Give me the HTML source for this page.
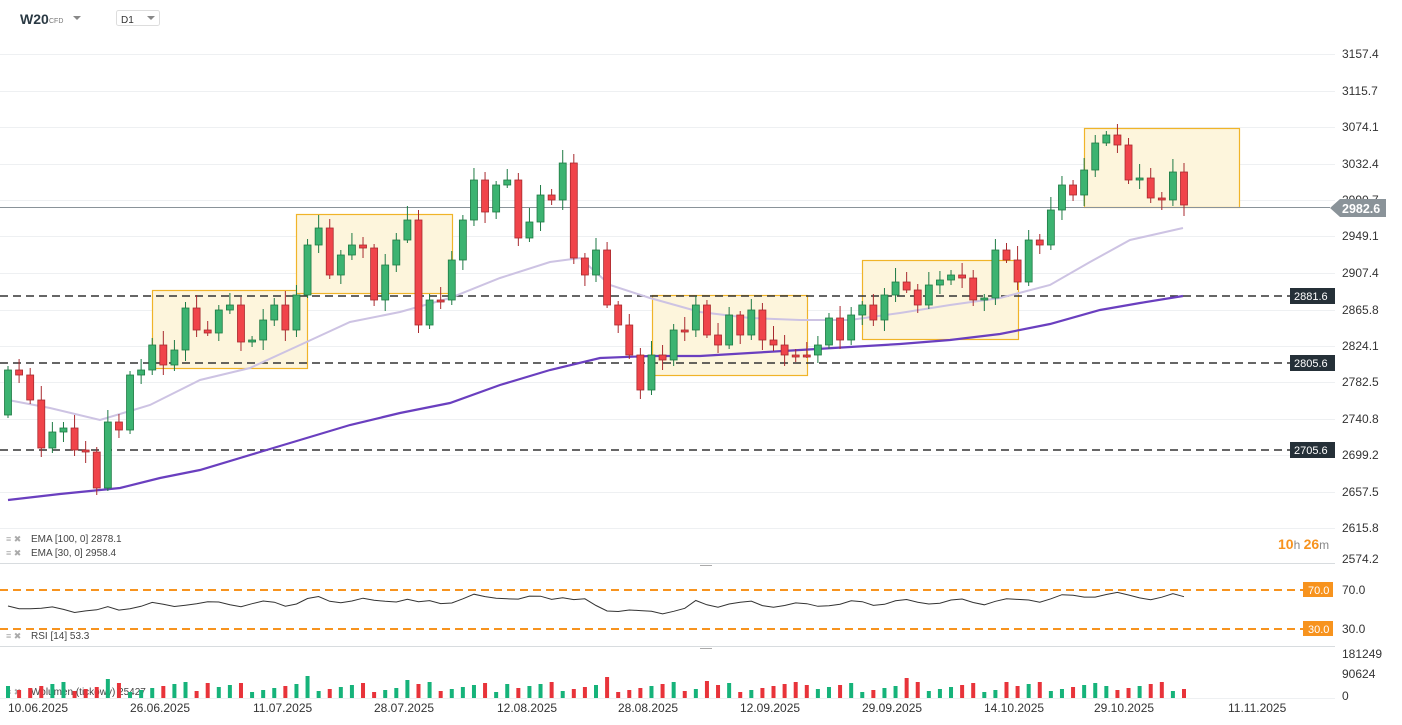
<!DOCTYPE html>
<html><head><meta charset="utf-8"><style>
body{margin:0;background:#fff;font-family:"Liberation Sans",sans-serif;}
svg{display:block}
text{font-family:"Liberation Sans",sans-serif;}
</style></head><body>
<svg id="s" width="1402" height="725" xmlns="http://www.w3.org/2000/svg">
<g id="grid" stroke="#eef0f2" stroke-width="1"></g>
<g id="boxes"></g>
<g id="main"></g>
<g font-size="12" fill="#333">
<text x="1342" y="58">3157.4</text><text x="1342" y="95">3115.7</text><text x="1342" y="131">3074.1</text><text x="1342" y="168">3032.4</text><text x="1342" y="204">2990.7</text><text x="1342" y="240">2949.1</text><text x="1342" y="277">2907.4</text><text x="1342" y="314">2865.8</text><text x="1342" y="350">2824.1</text><text x="1342" y="386">2782.5</text><text x="1342" y="423">2740.8</text><text x="1342" y="459">2699.2</text><text x="1342" y="496">2657.5</text><text x="1342" y="532">2615.8</text><text x="1342" y="563">2574.2</text>
<text x="1342" y="594">70.0</text><text x="1342" y="633">30.0</text>
<text x="1342" y="658">181249</text><text x="1342" y="678">90624</text><text x="1342" y="700">0</text>
</g>
<polygon points="1330,208 1340,199 1386,199 1386,217 1340,217" fill="#8a9399"/>
<text x="1342" y="213" font-size="12.5" fill="#fff" font-weight="bold">2982.6</text>
<g font-size="11" fill="#fff">
<rect x="1290" y="288" width="45" height="16" fill="#253038"/><text x="1294" y="300">2881.6</text>
<rect x="1290" y="355" width="45" height="16" fill="#253038"/><text x="1294" y="367">2805.6</text>
<rect x="1290" y="442" width="45" height="16" fill="#253038"/><text x="1294" y="454">2705.6</text>
<rect x="1303" y="582" width="30" height="15" fill="#f7931e"/><text x="1308" y="594">70.0</text>
<rect x="1303" y="621" width="30" height="15" fill="#f7931e"/><text x="1308" y="633">30.0</text>
</g>
<text x="20" y="24" font-size="14" font-weight="bold" fill="#2b3a44">W20</text>
<text x="49" y="23" font-size="7" fill="#777">CFD</text>
<polygon points="73,16 81,16 77,20" fill="#888"/>
<rect x="116.5" y="10.5" width="43" height="15" fill="#fff" stroke="#ddd" rx="2"/>
<text x="121" y="23" font-size="10" fill="#333">D1</text>
<polygon points="147,16 155,16 151,20" fill="#888"/>
<g font-size="10" fill="#444">
<text x="31" y="542">EMA [100, 0] 2878.1</text>
<text x="31" y="556">EMA [30, 0] 2958.4</text>
<text x="31" y="639">RSI [14] 53.3</text>
<text x="31" y="695">Wolumen (tickowy) 25427</text>
</g>
<g fill="#aaa" font-size="9"><text x="6" y="542">≡ ✖</text><text x="6" y="556">≡ ✖</text><text x="6" y="639">≡ ✖</text><text x="6" y="695">≡ ✖</text></g>
<text x="1278" y="549" font-size="14" fill="#f7931e" font-weight="bold">10<tspan font-size="12" fill="#888" font-weight="normal">h </tspan>26<tspan font-size="12" fill="#888" font-weight="normal">m</tspan></text>
<g font-size="12" fill="#333">
<text x="8" y="712">10.06.2025</text><text x="130" y="712">26.06.2025</text><text x="253" y="712">11.07.2025</text><text x="374" y="712">28.07.2025</text><text x="497" y="712">12.08.2025</text><text x="618" y="712">28.08.2025</text><text x="740" y="712">12.09.2025</text><text x="862" y="712">29.09.2025</text><text x="984" y="712">14.10.2025</text><text x="1094" y="712">29.10.2025</text><text x="1228" y="712">11.11.2025</text>
</g>
</svg>
<script>
const NS="http://www.w3.org/2000/svg",s=document.getElementById('s');
function el(p,t,a){const e=document.createElementNS(NS,t);for(const k in a)e.setAttribute(k,a[k]);p.appendChild(e);return e;}
const G=document.getElementById('grid'),B=document.getElementById('boxes'),M=document.getElementById('main');
[54,91,127,164,200,236,273,310,346,382,419,455,492,528].forEach(y=>el(G,'line',{x1:0,x2:1335,y1:y+.5,y2:y+.5}));
[563,646].forEach(y=>el(G,'line',{x1:0,x2:1335,y1:y+.5,y2:y+.5,stroke:'#d8dcdf'}));
el(G,'line',{x1:0,x2:1335,y1:698.5,y2:698.5});
[[152,290,307,368],[296,214,452,293],[652,295,807,375],[862,260,1018,339],[1084,128,1239,207]].forEach(b=>el(B,'rect',{x:b[0]+.5,y:b[1]+.5,width:b[2]-b[0],height:b[3]-b[1],fill:'#fdf5dc',stroke:'#f0b429','stroke-width':1.2}));
[296,363,450].forEach(y=>el(M,'line',{x1:0,x2:1290,y1:y,y2:y,stroke:'#333','stroke-width':1.6,'stroke-dasharray':'8,5'}));
el(M,'line',{x1:0,x2:1330,y1:207.5,y2:207.5,stroke:'#8a9399','stroke-width':1});
function pl(pts,c,w){el(M,'polyline',{points:pts.map(p=>p.join(',')).join(' '),fill:'none',stroke:c,'stroke-width':w});}
pl([[8,400],[50,408],[100,420],[150,405],[200,380],[250,368],[300,345],[350,322],[400,312],[450,298],[500,278],[550,262],[580,258],[610,285],[650,298],[700,312],[750,318],[800,320],[850,320],[900,313],[950,305],[1000,298],[1050,285],[1090,262],[1130,240],[1183,228]],'#cdc3e3',2);
pl([[8,500],[60,494],[120,488],[160,478],[200,470],[260,452],[300,440],[350,425],[400,413],[450,403],[500,385],[550,370],[600,358],[650,356],[700,356],[750,353],[800,350],[850,347],[900,344],[950,340],[1000,334],[1050,324],[1100,310],[1140,303],[1183,296]],'#6a3fbf',2.2);
const c=[370,375,400,448,432,428,450,452,488,422,430,375,370,345,365,350,308,330,333,310,305,342,340,320,305,330,295,245,228,275,255,245,248,300,265,240,220,325,300,300,260,220,180,212,185,180,238,222,195,200,163,258,275,250,305,325,355,390,355,360,330,330,305,335,345,315,335,310,340,345,355,355,355,345,318,340,315,305,320,295,282,290,305,285,280,275,278,300,298,250,260,282,240,245,210,185,195,170,143,135,145,180,178,198,200,172,205];
const n=c.length,dx=(1184-8)/(n-1);
let prev=400;
const vg=el(s,'g',{});
for(let i=0;i<n;i++){const x=8+i*dx,o=i==0?415:prev,cl=c[i];const up=cl<o;const col=up?'#27a35a':'#e8333a';
const hi=Math.min(o,cl)-4-((i*7)%11),lo=Math.max(o,cl)+3+((i*5)%9);
el(M,'line',{x1:x,x2:x,y1:hi,y2:lo,stroke:up?'#1e7a44':'#a82a2f','stroke-width':1});
const t=Math.min(o,cl),h=Math.max(2,Math.abs(o-cl));
el(M,'rect',{x:x-3.5,y:t,width:7,height:h,fill:up?'#3cb371':'#f0444a',stroke:up?'#1e7a44':'#a82a2f','stroke-width':.8});
const vh=6+((i*13)%11)+(i%9==0?6:0);
el(vg,'rect',{x:x-2,y:698-vh,width:4,height:vh,fill:up?'#16b37a':'#e8333a'});
prev=cl;}
// RSI
el(M,'line',{x1:0,x2:1303,y1:590,y2:590,stroke:'#f7931e','stroke-width':2,'stroke-dasharray':'8,5'});
el(M,'line',{x1:0,x2:1303,y1:629,y2:629,stroke:'#f7931e','stroke-width':2,'stroke-dasharray':'8,5'});
let r=[];for(let i=0;i<n;i++){const x=8+i*dx;let y=600+(c[i]-250)*0.05+Math.sin(i*1.3)*2.5; if(i>52&&i<62)y+=6; r.push([x.toFixed(1),y.toFixed(1)]);}
pl(r,'#333',1);
el(M,'line',{x1:700,x2:712,y1:565.5,y2:565.5,stroke:'#aaa'});el(M,'line',{x1:700,x2:712,y1:648.5,y2:648.5,stroke:'#aaa'});
</script>
</body></html>
